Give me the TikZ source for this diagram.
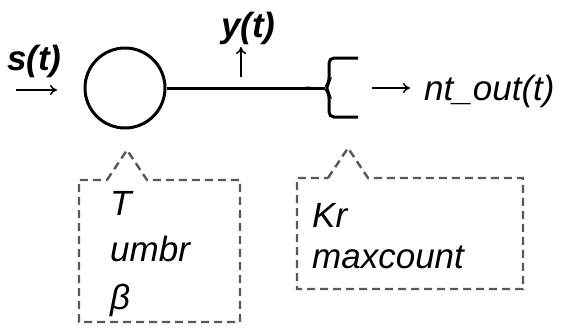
\documentclass[tikz,border=0pt]{standalone}
\usepackage{fontspec}
\setmainfont{Liberation Sans}
\usetikzlibrary{arrows.meta}
\begin{document}
\begin{tikzpicture}[x=1pt,y=-1pt,
  lbl/.style={inner sep=0pt,font=\fontsize{35}{40}\selectfont\itshape},
  blbl/.style={inner sep=0pt,font=\fontsize{35}{40}\selectfont\bfseries\itshape},
  sig/.style={line width=1.5pt,-{To[length=7pt,width=10pt]}},
  callout/.style={draw=black!65,line width=2.4pt,dash pattern=on 8pt off 5pt},
  thick line/.style={line width=3pt}]
\useasboundingbox (0,0) rectangle (563,335);
% circle
\node[draw,thick line,circle,minimum size=80pt,inner sep=0pt] (c) at (125,88) {};
% bracket
\coordinate (tip) at (325,88);
\draw[thick line,rounded corners=5pt] (358,58) -- (329,58) -- (329,83) -- (tip) -- (329,93) -- (329,117) -- (358,117);
\draw[thick line] (c.east) -- (tip);
\fill (306,86.5) -- (tip) -- (306,89.5) -- cycle;
% inputs / outputs
\coordinate (sa) at (16,90); \coordinate (sb) at (57,90);
\draw[sig] (sa) -- (sb);
\node[blbl,anchor=base west] (s) at (7,70) {s(t)};
\coordinate (ya) at (241,77); \coordinate (yb) at (241,47);
\draw[sig] (ya) -- (yb);
\node[blbl,anchor=base west] (y) at (221,37) {y(t)};
\coordinate (oa) at (372,88); \coordinate (ob) at (410,88);
\draw[sig] (oa) -- (ob);
\node[lbl,anchor=base west] (o) at (424,100) {nt\_out(t)};
% callout boxes
\draw[callout] (107,180) -- (127,150) -- (147,180) -- (240,180) -- (240,322) -- (79,322) -- (79,180) -- cycle;
\node[lbl,anchor=base west] (p1) at (110,215) {T};
\node[lbl,anchor=base west] (p2) at (110,261) {umbr};
\node[lbl,anchor=base west] (p3) at (110,309) {β};
\draw[callout] (328,178) -- (348,148) -- (368,178) -- (523,178) -- (523,289) -- (297,289) -- (297,178) -- cycle;
\node[lbl,anchor=base west] (q1) at (312,227) {Kr};
\node[lbl,anchor=base west] (q2) at (312,268) {maxcount};
\end{tikzpicture}
\end{document}
